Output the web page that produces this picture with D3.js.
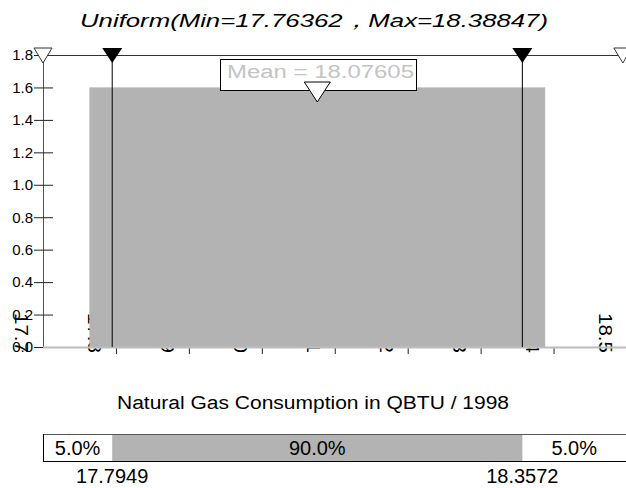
<!DOCTYPE html>
<html>
<head>
<meta charset="utf-8">
<script src="https://cdn.jsdelivr.net/npm/d3@7"></script>
<style>
  body { margin: 0; background: #fff; }
  svg { display: block; font-family: "Liberation Sans", Arial, sans-serif; }
</style>
</head>
<body>
<div class="graph"></div>
<script>
// distribution parameters
const distMin = 17.76362
const distMax = 18.38847
const meanVal = 18.07605
const cutoffs = [17.7949, 18.3572]
const certainty = ["5.0%", "90.0%", "5.0%"]
const yTicks = [0, 0.2, 0.4, 0.6, 0.8, 1.0, 1.2, 1.4, 1.6, 1.8]
const xTicks = [17.7, 17.8, 17.9, 18.0, 18.1, 18.2, 18.3, 18.4, 18.5]
const xTitle = "Natural Gas Consumption in QBTU / 1998"

const w = 626
const h = 488
const grey = "#b3b3b3"

const x = d3.scaleLinear().domain([17.7, 18.5]).range([43, 626.5])
const y = d3.scaleLinear().domain([0, 1.8]).range([347, 55])

const svg = d3.select(".graph")
  .append("svg")
  .attr("width", w)
  .attr("height", h)

// title
svg.append("text")
  .attr("x", 80).attr("y", 27)
  .attr("font-size", 19).attr("font-style", "italic")
  .attr("textLength", 468).attr("lengthAdjust", "spacingAndGlyphs")
  .text("Uniform(Min=" + distMin + "，Max=" + distMax + ")")

// x labels, rotated (drawn first so the bar hides them)
svg.selectAll(".xlab")
  .data(xTicks)
  .enter()
  .append("text")
  .attr("class", "xlab")
  .attr("transform", d => "translate(" + (x(d) - 28) + ",353) rotate(90)")
  .attr("text-anchor", "end")
  .attr("font-size", 19)
  .attr("textLength", 40).attr("lengthAdjust", "spacingAndGlyphs")
  .text(d => d.toFixed(1))

// the density bar
const dens = 1 / (distMax - distMin)
svg.append("rect")
  .attr("x", x(distMin))
  .attr("y", y(dens))
  .attr("width", x(distMax) - x(distMin))
  .attr("height", y(0) - y(dens))
  .style("fill", grey)

// y axis
const yAxis = svg.append("g").attr("transform", "translate(43,0)")
  .call(d3.axisLeft(y).tickValues(yTicks).tickSizeInner(-10).tickSizeOuter(0).tickPadding(10)
    .tickFormat(d3.format(".1f")))
yAxis.select(".domain").attr("stroke", "#555")
yAxis.selectAll(".tick line").attr("x1", -9).attr("x2", 10).attr("stroke", "#222")
yAxis.selectAll(".tick text").attr("font-size", 15).attr("fill", "#000").attr("x", -10)
  .attr("font-family", "Liberation Sans, Arial")

// x axis ticks
const xAxis = svg.append("g").attr("transform", "translate(0,347)")
  .call(d3.axisBottom(x).tickValues(xTicks.slice(1)).tickSize(7).tickFormat(""))
xAxis.select(".domain").remove()
xAxis.selectAll(".tick line").attr("stroke", "#222")
svg.append("line")
  .attr("x1", x(17.7)).attr("x2", w).attr("y1", 347.5).attr("y2", 347.5)
  .attr("stroke", "#bdbdbd").attr("stroke-width", 2)

// top line and grabbers
svg.append("line")
  .attr("x1", x(17.7)).attr("x2", w).attr("y1", 55.5).attr("y2", 55.5)
  .attr("stroke", "#333")

svg.selectAll(".cut")
  .data(cutoffs)
  .enter()
  .append("line")
  .attr("x1", d => x(d)).attr("x2", d => x(d))
  .attr("y1", 55).attr("y2", 347)
  .attr("stroke", "#000")

const tri = (cx, top, hw, ht) => "M" + (cx - hw) + "," + top + "L" + (cx + hw) + "," + top + "L" + cx + "," + (top + ht) + "Z"

svg.selectAll(".ftri")
  .data(cutoffs)
  .enter()
  .append("path")
  .attr("d", d => tri(x(d), 48, 10, 15))
  .attr("fill", "#000")

svg.selectAll(".otri")
  .data([17.7, 18.495])
  .enter()
  .append("path")
  .attr("d", d => tri(x(d), 48, 9, 15))
  .attr("fill", "#fff").attr("stroke", "#333")

// mean box
svg.append("rect")
  .attr("x", 220.5).attr("y", 59.5).attr("width", 196).attr("height", 31)
  .attr("fill", "#fff").attr("stroke", "#000")
svg.append("text")
  .attr("x", 227).attr("y", 78)
  .attr("font-size", 18).attr("fill", "#c4c4c4")
  .attr("textLength", 187).attr("lengthAdjust", "spacingAndGlyphs")
  .text("Mean = " + meanVal)
svg.append("path")
  .attr("d", tri(x(meanVal), 82, 13, 20))
  .attr("fill", "#fff").attr("stroke", "#000")

// x title
svg.append("text")
  .attr("x", 313).attr("y", 409)
  .attr("text-anchor", "middle")
  .attr("font-size", 18)
  .attr("textLength", 392).attr("lengthAdjust", "spacingAndGlyphs")
  .text(xTitle)

// certainty bar
const edges = [x(17.7), x(cutoffs[0]), x(cutoffs[1]), x(18.5)]
svg.append("rect")
  .attr("x", edges[1]).attr("y", 435).attr("width", edges[2] - edges[1]).attr("height", 27)
  .attr("fill", grey)
svg.append("line").attr("x1", edges[0]).attr("x2", w).attr("y1", 434.5).attr("y2", 434.5)
  .attr("stroke", "#555")
svg.append("line").attr("x1", edges[0]).attr("x2", w).attr("y1", 461.5).attr("y2", 461.5)
  .attr("stroke", "#000")
svg.append("line").attr("x1", edges[0] + 0.5).attr("x2", edges[0] + 0.5).attr("y1", 434).attr("y2", 462)
  .attr("stroke", "#000")

svg.selectAll(".pct")
  .data(certainty)
  .enter()
  .append("text")
  .attr("x", (d, i) => (edges[i] + Math.min(edges[i + 1], w)) / 2)
  .attr("y", 455)
  .attr("text-anchor", "middle")
  .attr("font-size", 20)
  .text(d => d)

svg.selectAll(".cutlab")
  .data(cutoffs)
  .enter()
  .append("text")
  .attr("x", d => x(d))
  .attr("y", 483)
  .attr("text-anchor", "middle")
  .attr("font-size", 20)
  .text(d => d.toFixed(4))
</script>
</body>
</html>
